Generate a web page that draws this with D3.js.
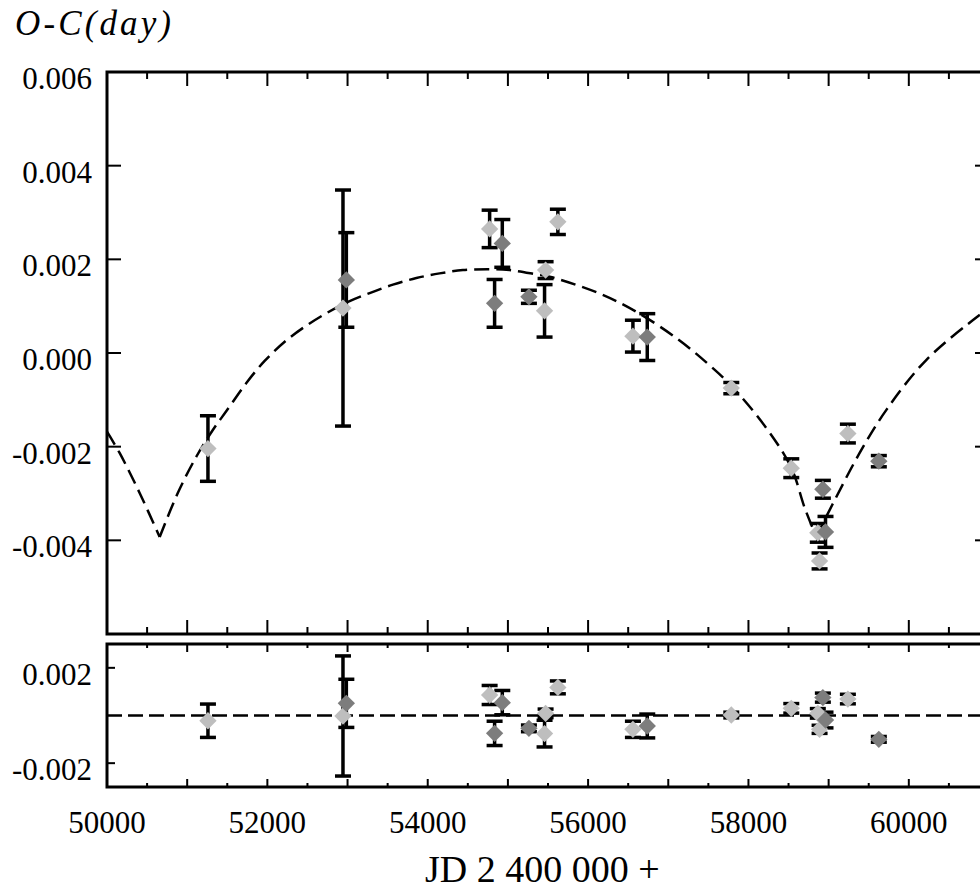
<!DOCTYPE html>
<html>
<head>
<meta charset="utf-8">
<script src="https://cdn.jsdelivr.net/npm/d3@7"></script>
<style>
    body { margin: 0; background: #fff; }
    text { font-family: "Liberation Serif", "DejaVu Serif", serif; fill: #000; }
</style>
</head>
<body>
<svg id="chart" width="980" height="890"></svg>
<script>
// observed minima: JD, O-C, error, residual, data source
const jd = [51259, 52943, 52985, 54772, 54834, 54930, 55262, 55457, 55470, 55623,
        56559, 56738, 57786, 58534, 58865, 58887, 58928, 58961, 59240, 59626];
const oc = [-0.00204, 0.00096, 0.00156, 0.00265, 0.00106, 0.00234, 0.00120, 0.00090, 0.00177, 0.00280,
        0.00036, 0.00034, -0.00075, -0.00246, -0.00384, -0.00444, -0.00291, -0.00382, -0.00172, -0.00231];
const err = [0.00070, 0.00252, 0.00101, 0.00040, 0.00051, 0.00051, 0.00014, 0.00056, 0.00018, 0.00027,
        0.00034, 0.00050, 0.00012, 0.00020, 0.00020, 0.00017, 0.00019, 0.00033, 0.00020, 0.00012];
const residual = [-0.00022, -0.00002, 0.00051, 0.00086, -0.00075, 0.00054, -0.00054, -0.00076, 0.00009, 0.00118,
        -0.00058, -0.00044, 0.00002, 0.00030, 0.00009, -0.00058, 0.00075, -0.00019, 0.00069, -0.00100];
const source = ["light", "light", "dark", "light", "dark", "dark", "dark", "light", "light", "light",
        "light", "dark", "light", "light", "light", "light", "dark", "dark", "light", "dark"];

// fitted light-time curve
const fitJd = [50000, 50159, 50410, 50657, 50880, 51115, 51322, 51489, 51738, 51966, 52216, 52465, 52736,
        53005, 53276, 53566, 53858, 54148, 54439, 54772, 55021, 55354, 55520, 56143, 56601, 57100,
        57474, 57786, 58222, 58534, 58700, 58845, 59052, 59385, 59718, 60217, 60882, 61000];
const fitOc = [-0.00168, -0.00214, -0.00300, -0.00393, -0.00300, -0.00221, -0.00164, -0.00124, -0.00064, -0.00017,
        0.00024, 0.00056, 0.00085, 0.00109, 0.00128, 0.00146, 0.00160, 0.00170, 0.00177, 0.00179, 0.00177,
        0.00168, 0.00163, 0.00127, 0.00088, 0.00032, -0.00020, -0.00070, -0.00160, -0.00245, -0.00330,
        -0.00392, -0.00322, -0.00214, -0.00122, -0.00015, 0.00081, 0.00095];

const xTicks = [50000, 52000, 54000, 56000, 58000, 60000];
const yTicksTop = [0.006, 0.004, 0.002, 0.000, -0.002, -0.004];
const yTicksBottom = [0.002, -0.002];

const colors = { light: "#bebebe", dark: "#7d7d7d" };

const svg = d3.select("#chart");
const left = 107, right = 989;

const x = d3.scaleLinear().domain([50000, 61000]).range([left, right]);
const yTop = d3.scaleLinear().domain([-0.006, 0.006]).range([634, 72]);
const yBot = d3.scaleLinear().domain([-0.003, 0.003]).range([787, 644]);

const points = jd.map((d, i) => ({ jd: d, oc: oc[i], err: err[i], res: residual[i], src: source[i] }));

function panel(y, id, tickMajor, tickMinor, yTickLen, yTicks) {
    const g = svg.append("g");
    const [y0, y1] = y.range();

    svg.append("clipPath").attr("id", id)
        .append("rect")
            .attr("x", left).attr("y", y1)
            .attr("width", right - left).attr("height", y0 - y1);

    // x ticks, inward on top and bottom edges
    const minor = d3.range(50000, 61001, 500);
    minor.forEach(v => {
        const len = v % 1000 === 0 ? tickMajor : tickMinor;
        g.append("line").attr("x1", x(v)).attr("x2", x(v))
            .attr("y1", y0).attr("y2", y0 - len)
            .attr("stroke", "#000").attr("stroke-width", 2);
        g.append("line").attr("x1", x(v)).attr("x2", x(v))
            .attr("y1", y1).attr("y2", y1 + len)
            .attr("stroke", "#000").attr("stroke-width", 2);
    });

    // y ticks on both sides
    yTicks.forEach(v => {
        g.append("line").attr("x1", left).attr("x2", left + yTickLen)
            .attr("y1", y(v)).attr("y2", y(v))
            .attr("stroke", "#000").attr("stroke-width", 2);
        g.append("line").attr("x1", right).attr("x2", right - yTickLen)
            .attr("y1", y(v)).attr("y2", y(v))
            .attr("stroke", "#000").attr("stroke-width", 2);
        g.append("text")
            .attr("x", 92).attr("y", y(v) + 17)
            .attr("text-anchor", "end")
            .attr("font-size", 31)
            .text(d3.format(".3f")(v).replace("−", "-"));
    });

    g.append("rect")
        .attr("x", left).attr("y", y1)
        .attr("width", right - left).attr("height", y0 - y1)
        .attr("fill", "none").attr("stroke", "#000").attr("stroke-width", 3);

    return g;
}

function drawPoints(g, y, key, clipId) {
    const pg = g.append("g").attr("clip-path", `url(#${clipId})`);

    const bars = pg.selectAll("g.bar").data(points).enter()
        .append("g").attr("class", "bar");
    bars.append("line")
        .attr("x1", d => x(d.jd)).attr("x2", d => x(d.jd))
        .attr("y1", d => y(d[key] + d.err)).attr("y2", d => y(d[key] - d.err))
        .attr("stroke", "#000").attr("stroke-width", 3.5);
    [1, -1].forEach(s => {
        bars.append("line")
            .attr("x1", d => x(d.jd) - 8).attr("x2", d => x(d.jd) + 8)
            .attr("y1", d => y(d[key] + s * d.err)).attr("y2", d => y(d[key] + s * d.err))
            .attr("stroke", "#000").attr("stroke-width", 3.5);
    });

    const diamond = d3.symbol().type(d3.symbolSquare).size(150);
    pg.selectAll("path.pt").data(points).enter()
        .append("path").attr("class", "pt")
            .attr("d", diamond)
            .attr("transform", d => `translate(${x(d.jd)}, ${y(d[key])}) rotate(45)`)
            .attr("fill", d => colors[d.src]);
}

// top panel: O-C with fit
const topPanel = panel(yTop, "clipTop", 14, 7, 14, yTicksTop);

const fit = fitJd.map((d, i) => ({ jd: d, v: fitOc[i] }));
// split the curve at its sharp minima so the cusps stay pointed
const cusps = [];
fit.forEach((d, i) => {
    if (i > 0 && i < fit.length - 1 && d.v < fit[i - 1].v && d.v < fit[i + 1].v)
        cusps.push(i);
});
const bounds = [0, ...cusps, fit.length - 1];
const line = d3.line().x(d => x(d.jd)).y(d => yTop(d.v)).curve(d3.curveCatmullRom.alpha(0.5));
const fitG = topPanel.append("g").attr("clip-path", "url(#clipTop)");
for (let k = 0; k < bounds.length - 1; k++) {
    fitG.append("path")
        .attr("d", line(fit.slice(bounds[k], bounds[k + 1] + 1)))
        .attr("fill", "none").attr("stroke", "#000")
        .attr("stroke-width", 2.5).attr("stroke-dasharray", "15,7");
}
drawPoints(topPanel, yTop, "oc", "clipTop");

// bottom panel: residuals
const bottomPanel = panel(yBot, "clipBot", 8, 4, 8, yTicksBottom);
bottomPanel.append("line")
    .attr("x1", left).attr("x2", right)
    .attr("y1", yBot(0)).attr("y2", yBot(0))
    .attr("stroke", "#000").attr("stroke-width", 2.5).attr("stroke-dasharray", "15,6");
drawPoints(bottomPanel, yBot, "res", "clipBot");

// x labels
svg.append("g").selectAll("text").data(xTicks).enter()
    .append("text")
        .attr("x", d => x(d)).attr("y", 833)
        .attr("text-anchor", "middle")
        .attr("font-size", 31)
        .text(d => d);

svg.append("text")
    .attr("x", 425).attr("y", 882)
    .attr("font-size", 38)
    .text("JD 2 400 000 +");

svg.append("text")
    .attr("x", 15).attr("y", 35)
    .attr("font-size", 35)
    .attr("font-style", "italic")
    .attr("textLength", 156)
    .text("O-C(day)");
</script>
</body>
</html>
